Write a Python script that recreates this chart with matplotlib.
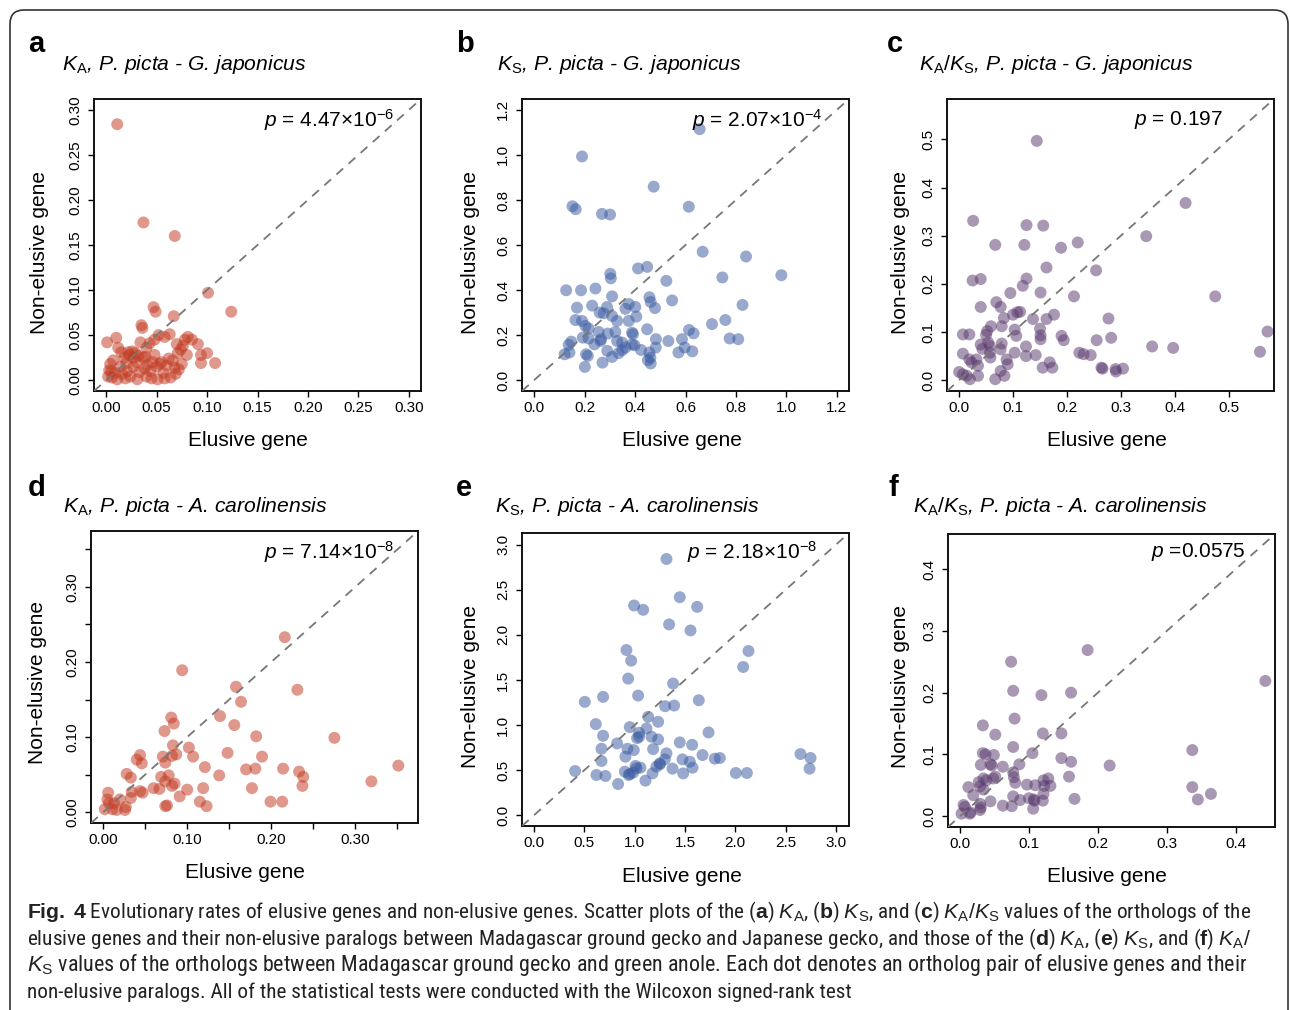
import numpy as np
import matplotlib
matplotlib.use("Agg")
import matplotlib.pyplot as plt
from matplotlib import font_manager
from matplotlib.patches import FancyBboxPatch
from matplotlib.transforms import IdentityTransform

# ---- data (elusive gene, non-elusive gene) ----
ka_gj = [(0.011, 0.284), (0.037, 0.175), (0.068, 0.160), (0.101, 0.097), (0.124, 0.076),
         (0.047, 0.081), (0.049, 0.076), (0.067, 0.071), (0.035, 0.061), (0.036, 0.058),
         (0.001, 0.042), (0.010, 0.047), (0.063, 0.051), (0.081, 0.048), (0.091, 0.040),
         (0.070, 0.040), (0.076, 0.038), (0.074, 0.034), (0.094, 0.028), (0.100, 0.030),
         (0.094, 0.019), (0.108, 0.019), (0.080, 0.028), (0.048, 0.045), (0.052, 0.050),
         (0.034, 0.042), (0.040, 0.036), (0.022, 0.031), (0.026, 0.032), (0.029, 0.030),
         (0.032, 0.027), (0.015, 0.031), (0.012, 0.036), (0.018, 0.025), (0.007, 0.022),
         (0.004, 0.018), (0.005, 0.010), (0.002, 0.004), (0.006, 0.003), (0.009, 0.008),
         (0.011, 0.001), (0.014, 0.015), (0.016, 0.007), (0.020, 0.019), (0.021, 0.010),
         (0.024, 0.004), (0.027, 0.015), (0.030, 0.020), (0.031, 0.001), (0.033, 0.009),
         (0.037, 0.025), (0.038, 0.013), (0.040, 0.004), (0.044, 0.010), (0.046, 0.020),
         (0.048, 0.028), (0.050, 0.015), (0.051, 0.001), (0.053, 0.018), (0.055, 0.020),
         (0.057, 0.008), (0.058, 0.002), (0.060, 0.016), (0.062, 0.024), (0.066, 0.022),
         (0.068, 0.014), (0.069, 0.007), (0.072, 0.012), (0.075, 0.018), (0.078, 0.045),
         (0.064, 0.003), (0.045, 0.002), (0.041, 0.017), (0.019, 0.002), (0.003, 0.011),
         (0.027, 0.025), (0.023, 0.028), (0.039, 0.026), (0.043, 0.041), (0.058, 0.048),
         (0.071, 0.030), (0.085, 0.045)]

ks_gj = [(0.656, 1.114), (0.190, 0.993), (0.474, 0.859), (0.152, 0.772), (0.165, 0.759),
         (0.269, 0.738), (0.301, 0.735), (0.613, 0.770), (0.668, 0.570), (0.840, 0.549),
         (0.980, 0.466), (0.746, 0.456), (0.826, 0.334), (0.705, 0.249), (0.758, 0.267),
         (0.775, 0.185), (0.809, 0.182), (0.614, 0.223), (0.632, 0.208), (0.586, 0.182),
         (0.597, 0.145), (0.572, 0.123), (0.627, 0.128), (0.532, 0.174), (0.524, 0.441),
         (0.547, 0.354), (0.412, 0.496), (0.448, 0.503), (0.302, 0.472), (0.304, 0.452),
         (0.127, 0.399), (0.186, 0.399), (0.243, 0.407), (0.309, 0.372), (0.457, 0.368),
         (0.462, 0.347), (0.479, 0.320), (0.170, 0.322), (0.230, 0.331), (0.375, 0.338),
         (0.401, 0.325), (0.362, 0.317), (0.289, 0.325), (0.260, 0.300), (0.276, 0.297),
         (0.164, 0.267), (0.190, 0.263), (0.203, 0.241), (0.216, 0.229), (0.309, 0.285),
         (0.329, 0.263), (0.375, 0.263), (0.405, 0.282), (0.448, 0.226), (0.256, 0.214),
         (0.322, 0.214), (0.292, 0.207), (0.388, 0.211), (0.392, 0.204), (0.193, 0.189),
         (0.216, 0.185), (0.265, 0.182), (0.263, 0.174), (0.147, 0.171), (0.137, 0.157),
         (0.121, 0.115), (0.140, 0.123), (0.239, 0.159), (0.329, 0.174), (0.349, 0.167),
         (0.388, 0.159), (0.362, 0.145), (0.398, 0.155), (0.424, 0.134), (0.483, 0.182),
         (0.482, 0.145), (0.457, 0.123), (0.461, 0.100), (0.451, 0.089), (0.462, 0.074),
         (0.206, 0.115), (0.213, 0.108), (0.201, 0.059), (0.271, 0.078), (0.309, 0.103),
         (0.349, 0.133), (0.290, 0.130), (0.335, 0.120)]

kaks_gj = [(0.144, 0.497), (0.420, 0.368), (0.347, 0.299), (0.475, 0.174), (0.572, 0.101),
           (0.558, 0.059), (0.397, 0.067), (0.358, 0.070), (0.026, 0.331), (0.125, 0.322),
           (0.156, 0.321), (0.067, 0.281), (0.121, 0.281), (0.220, 0.286), (0.189, 0.275),
           (0.254, 0.228), (0.162, 0.234), (0.025, 0.207), (0.040, 0.210), (0.125, 0.211),
           (0.118, 0.196), (0.095, 0.181), (0.151, 0.182), (0.213, 0.174), (0.040, 0.152),
           (0.069, 0.162), (0.077, 0.152), (0.083, 0.129), (0.100, 0.136), (0.108, 0.141),
           (0.113, 0.142), (0.137, 0.127), (0.162, 0.127), (0.176, 0.136), (0.277, 0.128),
           (0.007, 0.095), (0.019, 0.095), (0.052, 0.102), (0.050, 0.094), (0.059, 0.112),
           (0.079, 0.112), (0.103, 0.105), (0.106, 0.092), (0.150, 0.107), (0.151, 0.093),
           (0.151, 0.085), (0.190, 0.092), (0.194, 0.083), (0.255, 0.083), (0.282, 0.088),
           (0.040, 0.074), (0.043, 0.065), (0.054, 0.078), (0.057, 0.071), (0.057, 0.057),
           (0.058, 0.047), (0.079, 0.076), (0.077, 0.064), (0.103, 0.057), (0.124, 0.070),
           (0.124, 0.050), (0.142, 0.052), (0.223, 0.057), (0.231, 0.054), (0.244, 0.052),
           (0.007, 0.055), (0.019, 0.043), (0.023, 0.037), (0.032, 0.043), (0.035, 0.030),
           (0.088, 0.043), (0.090, 0.033), (0.000, 0.017), (0.007, 0.012), (0.014, 0.009),
           (0.020, 0.002), (0.035, 0.009), (0.067, 0.002), (0.077, 0.019), (0.084, 0.009),
           (0.155, 0.026), (0.168, 0.037), (0.173, 0.026), (0.264, 0.026), (0.266, 0.024),
           (0.290, 0.023), (0.291, 0.018), (0.304, 0.024)]

ka_ac = [(0.216, 0.233), (0.094, 0.189), (0.158, 0.167), (0.231, 0.163), (0.164, 0.147),
         (0.139, 0.128), (0.156, 0.116), (0.081, 0.126), (0.084, 0.118), (0.073, 0.108),
         (0.182, 0.101), (0.275, 0.099), (0.102, 0.086), (0.107, 0.074), (0.083, 0.089),
         (0.148, 0.079), (0.189, 0.074), (0.121, 0.060), (0.170, 0.057), (0.181, 0.058),
         (0.214, 0.058), (0.233, 0.054), (0.238, 0.047), (0.237, 0.035), (0.351, 0.062),
         (0.319, 0.041), (0.138, 0.049), (0.177, 0.032), (0.199, 0.014), (0.213, 0.014),
         (0.044, 0.076), (0.040, 0.070), (0.046, 0.065), (0.028, 0.051), (0.033, 0.046),
         (0.071, 0.074), (0.074, 0.066), (0.082, 0.075), (0.087, 0.077), (0.069, 0.047),
         (0.078, 0.049), (0.074, 0.041), (0.085, 0.038), (0.082, 0.035), (0.060, 0.032),
         (0.067, 0.031), (0.034, 0.027), (0.033, 0.019), (0.044, 0.028), (0.047, 0.026),
         (0.100, 0.030), (0.119, 0.032), (0.091, 0.021), (0.115, 0.014), (0.123, 0.008),
         (0.074, 0.008), (0.076, 0.009), (0.006, 0.026), (0.005, 0.017), (0.007, 0.012),
         (0.002, 0.004), (0.011, 0.004), (0.016, 0.003), (0.020, 0.017), (0.027, 0.007),
         (0.026, 0.003), (0.013, 0.012)]

ks_ac = [(1.316, 2.842), (1.448, 2.418), (0.994, 2.326), (1.084, 2.278), (1.621, 2.311),
         (1.342, 2.116), (1.555, 2.049), (0.918, 1.832), (0.965, 1.714), (2.131, 1.821),
         (2.078, 1.644), (0.935, 1.515), (1.382, 1.460), (0.504, 1.257), (0.686, 1.312),
         (1.034, 1.327), (1.637, 1.275), (1.303, 1.209), (1.392, 1.216), (1.134, 1.091),
         (1.233, 1.036), (0.613, 1.010), (0.686, 0.881), (0.951, 0.977), (1.044, 0.914),
         (1.117, 0.962), (1.024, 0.855), (1.044, 0.870), (1.167, 0.870), (1.233, 0.840),
         (1.734, 0.918), (0.825, 0.796), (1.448, 0.807), (1.571, 0.781), (0.670, 0.737),
         (0.928, 0.737), (0.991, 0.722), (1.183, 0.733), (1.316, 0.686), (1.674, 0.667),
         (0.908, 0.649), (1.300, 0.619), (1.250, 0.575), (1.475, 0.619), (1.548, 0.593),
         (1.796, 0.627), (1.846, 0.634), (2.648, 0.678), (2.748, 0.634), (2.738, 0.516),
         (0.670, 0.601), (0.408, 0.490), (0.620, 0.446), (0.709, 0.435), (0.902, 0.483),
         (0.951, 0.457), (1.008, 0.546), (1.017, 0.520), (1.057, 0.527), (1.177, 0.464),
         (1.216, 0.538), (1.250, 0.564), (1.376, 0.516), (1.482, 0.464), (1.575, 0.527),
         (2.005, 0.468), (2.115, 0.468), (0.835, 0.346), (1.107, 0.383), (0.941, 0.446),
         (0.984, 0.472)]

kaks_ac = [(0.185, 0.269), (0.074, 0.250), (0.443, 0.219), (0.077, 0.203), (0.118, 0.196),
           (0.161, 0.200), (0.079, 0.158), (0.033, 0.147), (0.051, 0.132), (0.120, 0.134),
           (0.147, 0.134), (0.077, 0.112), (0.337, 0.107), (0.105, 0.102), (0.033, 0.102),
           (0.037, 0.100), (0.049, 0.099), (0.147, 0.094), (0.161, 0.088), (0.217, 0.082),
           (0.030, 0.083), (0.044, 0.084), (0.046, 0.082), (0.062, 0.080), (0.086, 0.084),
           (0.051, 0.064), (0.048, 0.061), (0.077, 0.071), (0.078, 0.063), (0.080, 0.054),
           (0.158, 0.064), (0.027, 0.055), (0.029, 0.048), (0.034, 0.043), (0.012, 0.047),
           (0.019, 0.034), (0.097, 0.051), (0.109, 0.050), (0.121, 0.058), (0.128, 0.061),
           (0.122, 0.049), (0.131, 0.049), (0.121, 0.036), (0.077, 0.032), (0.087, 0.026),
           (0.100, 0.029), (0.107, 0.027), (0.108, 0.025), (0.120, 0.025), (0.166, 0.028),
           (0.044, 0.024), (0.029, 0.020), (0.030, 0.014), (0.029, 0.010), (0.062, 0.017),
           (0.075, 0.016), (0.106, 0.012), (0.337, 0.047), (0.345, 0.027), (0.364, 0.036),
           (0.005, 0.018), (0.007, 0.015), (0.002, 0.004), (0.015, 0.006), (0.014, 0.004),
           (0.034, 0.061), (0.038, 0.058)]

panel_letters = ['a', 'b', 'c', 'd', 'e', 'f']
panel_titles = [r"$K_{\mathrm{A}}$, P. picta - G. japonicus",
                r"$K_{\mathrm{S}}$, P. picta - G. japonicus",
                r"$K_{\mathrm{A}}/K_{\mathrm{S}}$, P. picta - G. japonicus",
                r"$K_{\mathrm{A}}$, P. picta - A. carolinensis",
                r"$K_{\mathrm{S}}$, P. picta - A. carolinensis",
                r"$K_{\mathrm{A}}/K_{\mathrm{S}}$, P. picta - A. carolinensis"]
p_labels = [r"$p$ = 4.47×10$^{-6}$", r"$p$ = 2.07×10$^{-4}$", r"$p$ = 0.197",
            r"$p$ = 7.14×10$^{-8}$", r"$p$ = 2.18×10$^{-8}$", r"$p$ =0.0575"]
tick_values = [np.arange(0, 0.301, 0.05), np.arange(0, 1.21, 0.2), np.arange(0, 0.51, 0.1),
               np.arange(0, 0.351, 0.05), np.arange(0, 3.01, 0.5), np.arange(0, 0.41, 0.1)]
tick_labels = [["0.00", "0.05", "0.10", "0.15", "0.20", "0.25", "0.30"],
               ["0.0", "0.2", "0.4", "0.6", "0.8", "1.0", "1.2"],
               ["0.0", "0.1", "0.2", "0.3", "0.4", "0.5"],
               ["0.00", "", "0.10", "", "0.20", "", "0.30", ""],
               ["0.0", "0.5", "1.0", "1.5", "2.0", "2.5", "3.0"],
               ["0.0", "0.1", "0.2", "0.3", "0.4"]]
datasets = [ka_gj, ks_gj, kaks_gj, ka_ac, ks_ac, kaks_ac]

caption_lines = [
    r"$\mathbf{Fig.}$ $\mathbf{4}$ Evolutionary rates of elusive genes and non-elusive genes. Scatter plots of the "
    r"($\mathbf{a}$) $K_{\mathrm{A}}$, ($\mathbf{b}$) $K_{\mathrm{S}}$, and ($\mathbf{c}$) "
    r"$K_{\mathrm{A}}/K_{\mathrm{S}}$ values of the orthologs of the",
    r"elusive genes and their non-elusive paralogs between Madagascar ground gecko and Japanese gecko, "
    r"and those of the ($\mathbf{d}$) $K_{\mathrm{A}}$, ($\mathbf{e}$) $K_{\mathrm{S}}$, and ($\mathbf{f}$) $K_{\mathrm{A}}/$",
    r"$K_{\mathrm{S}}$ values of the orthologs between Madagascar ground gecko and green anole. "
    r"Each dot denotes an ortholog pair of elusive genes and their",
    r"non-elusive paralogs. All of the statistical tests were conducted with the Wilcoxon signed-rank test",
]

# ---- layout (pixels) ----
W, H = 1290, 1010
axes_px = [(94, 99, 421, 391), (522, 99, 849, 391), (947, 99, 1274, 391),
           (91, 531, 418, 823), (522, 533, 849, 826), (948, 534, 1275, 827)]
limits = [(-0.012, 0.312), (-0.048, 1.248), (-0.0225, 0.584),
          (-0.0144, 0.3744), (-0.12, 3.13), (-0.0176, 0.457)]
colors = ['#C23B22', '#3A5BA0', '#5A3A6E', '#C23B22', '#3A5BA0', '#5A3A6E']
letter_pos = [(28, 44), (456, 44), (887, 44), (28, 488), (456, 488), (888, 488)]
title_pos = [(62, 64), (497, 64), (919, 64), (63, 507), (495, 507), (913, 507)]
p_pos = [(394, 120), (822, 120), (1223, 120), (394, 552), (817, 552), (1246, 552)]
ylab_pos = [(40, 252), (470, 252), (901, 252), (38, 683), (470, 687), (901, 687)]
xlab_pos = [(248, 441), (682, 441), (1107, 441), (245, 873), (682, 876), (1107, 876)]

names = {f.name for f in font_manager.fontManager.ttflist}
caption_font = 'Liberation Sans'
for cand in ['Liberation Sans Narrow', 'Roboto Condensed', 'Open Sans Condensed',
             'Noto Sans Condensed', 'DejaVu Sans Condensed']:
    if cand in names:
        caption_font = cand
        break

plt.rcParams['font.family'] = ['Liberation Sans', 'DejaVu Sans']
plt.rcParams['mathtext.fontset'] = 'custom'
plt.rcParams['mathtext.rm'] = 'Liberation Sans'
plt.rcParams['mathtext.it'] = 'Liberation Sans:italic'
plt.rcParams['mathtext.bf'] = 'Liberation Sans:bold'

fig = plt.figure(figsize=(W / 100, H / 100), dpi=100)


def fx(x):
    return x / W


def fy(y):
    return 1 - y / H


for i in range(6):
    l, t, r, b = axes_px[i]
    ax = fig.add_axes([fx(l), fy(b), (r - l) / W, (b - t) / H])
    pts = np.array(datasets[i])
    ax.scatter(pts[:, 0], pts[:, 1], s=74, color=colors[i], alpha=0.52,
               edgecolors='none', zorder=2)
    lo, hi = limits[i]
    ax.plot([lo, hi], [lo, hi], ls=(0, (5, 4)), color='#777777', lw=1.3, zorder=3)
    ax.set_xlim(lo, hi)
    ax.set_ylim(lo, hi)
    ax.set_xticks(tick_values[i])
    ax.set_yticks(tick_values[i])
    ax.set_xticklabels(tick_labels[i])
    ax.set_yticklabels(tick_labels[i], rotation=90, va='center')
    ax.tick_params(direction='out', length=4.5, width=1, labelsize=11, colors='black')
    ax.tick_params(axis='x', pad=3)
    ax.tick_params(axis='y', pad=4)
    for sp in ax.spines.values():
        sp.set_linewidth(1.4)
        sp.set_color('#111111')

    fig.text(fx(letter_pos[i][0]), fy(letter_pos[i][1]), panel_letters[i],
             fontsize=21, fontweight='bold', ha='left', va='center')
    fig.text(fx(title_pos[i][0]), fy(title_pos[i][1]), panel_titles[i],
             fontsize=15.2, style='italic', ha='left', va='center')
    fig.text(fx(p_pos[i][0]), fy(p_pos[i][1]), p_labels[i],
             fontsize=15, ha='right', va='center')
    fig.text(fx(ylab_pos[i][0]), fy(ylab_pos[i][1]), "Non-elusive gene",
             fontsize=15, rotation=90, ha='center', va='center')
    fig.text(fx(xlab_pos[i][0]), fy(xlab_pos[i][1]), "Elusive gene",
             fontsize=15, ha='center', va='center')

# caption
cap_y = [912, 939, 965, 992]
cap_width = [1220, 1220, 1218]
renderer = fig.canvas.get_renderer()
cap_texts = []
for k, line in enumerate(caption_lines):
    t = fig.text(fx(27), fy(cap_y[k]), line, fontsize=13, family=caption_font,
                 ha='left', va='center', color='#222222')
    cap_texts.append(t)
base = 13
for k in range(3):
    w = cap_texts[k].get_window_extent(renderer).width
    cap_texts[k].set_fontsize(13 * cap_width[k] / w)
    if k == 0:
        base = 13 * cap_width[k] / w
cap_texts[3].set_fontsize(base)

# outer frame
frame = FancyBboxPatch((10, -30), 1278, H - 10 + 30,
                       boxstyle="round,pad=0,rounding_size=14",
                       transform=IdentityTransform(), fill=False,
                       edgecolor='#333333', lw=1.2)
fig.add_artist(frame)

fig.savefig("out.png", dpi=100)
